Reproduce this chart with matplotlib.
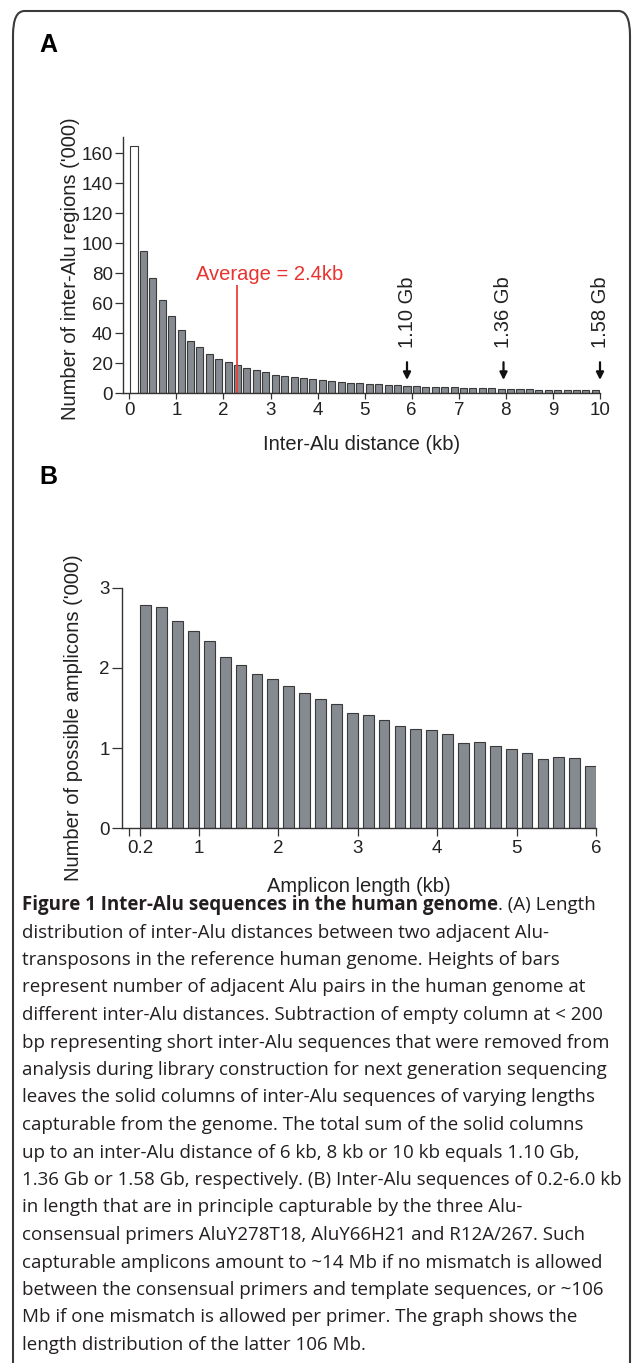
import numpy as np
import matplotlib.pyplot as plt
from matplotlib.patches import FancyBboxPatch

# ---- data ----
# panel A: 0.2 kb bins from 0 to 10 kb, counts in thousands
bins_a = np.round(np.arange(0.1, 10.0, 0.2), 2)
counts_a = [165, 95, 77, 62, 51.5, 42, 35, 31, 26, 23,
            21, 19, 17, 15.5, 14, 12.5, 11.7, 11, 10, 9.4,
            8.8, 8.1, 7.4, 6.9, 6.6, 6.1, 5.9, 5.5, 5.2, 4.8,
            4.6, 4.4, 4.2, 4.0, 3.9, 3.7, 3.5, 3.3, 3.2, 3.0,
            2.8, 2.7, 2.6, 2.5, 2.4, 2.3, 2.2, 2.1, 2.0, 1.9]
avg_pos = 2.28
avg_top = 72
avg_label = 'Average = 2.4kb'
arrow_pos = [5.9, 7.95, 10.0]
arrow_labels = ['1.10 Gb', '1.36 Gb', '1.58 Gb']

# panel B: 0.2 kb bins from 0.2 to 6.0 kb (bin right edges), counts in thousands
bins_b = np.round(np.arange(0.4, 6.01, 0.2), 2)
counts_b = [2.79, 2.76, 2.58, 2.46, 2.33, 2.13, 2.04, 1.93, 1.86, 1.77,
            1.69, 1.61, 1.55, 1.44, 1.41, 1.35, 1.27, 1.24, 1.22, 1.18,
            1.06, 1.08, 1.02, 0.99, 0.94, 0.86, 0.89, 0.88, 0.78]

caption_title = 'Figure 1 Inter-Alu sequences in the human genome'
caption_lines = [
    '. (A) Length',
    'distribution of inter-Alu distances between two adjacent Alu-',
    'transposons in the reference human genome. Heights of bars',
    'represent number of adjacent Alu pairs in the human genome at',
    'different inter-Alu distances. Subtraction of empty column at < 200',
    'bp representing short inter-Alu sequences that were removed from',
    'analysis during library construction for next generation sequencing',
    'leaves the solid columns of inter-Alu sequences of varying lengths',
    'capturable from the genome. The total sum of the solid columns',
    'up to an inter-Alu distance of 6 kb, 8 kb or 10 kb equals 1.10 Gb,',
    '1.36 Gb or 1.58 Gb, respectively. (B) Inter-Alu sequences of 0.2-6.0 kb',
    'in length that are in principle capturable by the three Alu-',
    'consensual primers AluY278T18, AluY66H21 and R12A/267. Such',
    'capturable amplicons amount to ~14 Mb if no mismatch is allowed',
    'between the consensual primers and template sequences, or ~106',
    'Mb if one mismatch is allowed per primer. The graph shows the',
    'length distribution of the latter 106 Mb.',
]

plt.rcParams['font.family'] = 'Liberation Sans'
W, H = 633, 1363
fig = plt.figure(figsize=(W / 100, H / 100), dpi=100)

bar_col = '#868b91'
edge_col = '#3a3a3a'
axis_col = '#333333'
txt_col = '#222222'
lab_fs = 14.5
tick_fs = 13.5

def px_axes(left, top, right, bottom):
    return fig.add_axes([left / W, 1 - bottom / H, (right - left) / W, (bottom - top) / H])

def style(ax):
    for s in ['top', 'right']:
        ax.spines[s].set_visible(False)
    for s in ['left', 'bottom']:
        ax.spines[s].set_color(axis_col)
        ax.spines[s].set_linewidth(1.0)
    ax.tick_params(colors=axis_col, labelcolor=txt_col, labelsize=tick_fs, width=0.9)

# ---- panel A ----
ax = px_axes(122.7, 137, 600, 393.3)
style(ax)
cols = ['white'] + [bar_col] * (len(bins_a) - 1)
ax.bar(bins_a, counts_a, width=0.15, color=cols, edgecolor=edge_col, linewidth=0.8)
ax.set_xlim(-0.14, 10.0)
ax.set_ylim(0, 170.7)
ax.set_xticks(range(0, 11))
ax.set_yticks(range(0, 161, 20))
ax.tick_params(axis='x', length=4, pad=2.5)
ax.tick_params(axis='y', length=5.5, pad=1.5)
ax.set_ylabel("Number of inter-Alu regions ('000)", fontsize=lab_fs, color=txt_col)
ax.yaxis.set_label_coords(-0.089, 0.485)
ax.set_xlabel('Inter-Alu distance (kb)', fontsize=lab_fs, color=txt_col)
ax.xaxis.set_label_coords(0.5, -0.2)
ax.xaxis.label.set_va('center')

ax.vlines(avg_pos, 0, avg_top, color='#e8413c', lw=1.3)
ax.text(1.42, 75.5, avg_label, color='#e8332f', fontsize=lab_fs, va='baseline', ha='left')
for xp, lab in zip(arrow_pos, arrow_labels):
    ax.annotate('', xy=(xp, 8.9), xytext=(xp, 20.7),
                arrowprops=dict(arrowstyle='-|>', color='#111111', lw=1.6,
                                mutation_scale=11, shrinkA=0, shrinkB=0))
    ax.text(xp, 30, lab, rotation=90, ha='center', va='bottom', fontsize=lab_fs, color=txt_col)

# ---- panel B ----
bx = px_axes(121.7, 587.7, 596, 828.3)
style(bx)
bw = 0.135
bx.bar(bins_b - bw, counts_b, width=bw, align='edge', color=bar_col, edgecolor=edge_col, linewidth=0.8)
bx.set_xlim(0.03, 6.0)
bx.set_ylim(0, 3)
bx.set_xticks([0.125, 0.265, 1, 2, 3, 4, 5, 6])
bx.set_xticklabels(['', '0.2', '1', '2', '3', '4', '5', '6'])
bx.set_yticks([0, 1, 2, 3])
bx.tick_params(axis='x', length=5.5, pad=3)
bx.tick_params(axis='y', length=7.2, pad=1.5)
bx.set_ylabel("Number of possible amplicons ('000)", fontsize=lab_fs, color=txt_col)
bx.yaxis.set_label_coords(-0.082, 0.46)
bx.set_xlabel('Amplicon length (kb)', fontsize=lab_fs, color=txt_col)
bx.xaxis.set_label_coords(0.5, -0.24)
bx.xaxis.label.set_va('center')

# panel letters
fig.text(39 / W, 1 - 52 / H, 'A', fontsize=18, fontweight='bold', va='baseline')
fig.text(39 / W, 1 - 484 / H, 'B', fontsize=18, fontweight='bold', va='baseline')

# frame around the figure
frame = FancyBboxPatch((13 / W, -0.05), (W - 3 - 13) / W, 1 - 11 / H + 0.05,
                       boxstyle='round,pad=0,rounding_size=0.018',
                       transform=fig.transFigure, fill=False, ec='#3a3a3a', lw=1.5)
fig.patches.append(frame)

# caption: one text per line, font scaled so the widest line fits the frame
cap_font = dict(family='Open Sans', color='#231f20', va='center')
x0, y0, dy = 22, 905, 27.5
cap_fs = 13.5
texts = []
t = fig.text(x0 / W, 1 - y0 / H, caption_title, fontweight='bold', fontsize=cap_fs, **cap_font)
fig.canvas.draw()
rest = fig.text(t.get_window_extent().x1 / W, 1 - y0 / H, caption_lines[0], fontsize=cap_fs, **cap_font)
texts = [t, rest]
for i, line in enumerate(caption_lines[1:], start=1):
    texts.append(fig.text(x0 / W, 1 - (y0 + i * dy) / H, line, fontsize=cap_fs, **cap_font))
fig.canvas.draw()
widest = max(tx.get_window_extent().x1 for tx in texts) - x0
scale = min(1.0, 601 / widest)
for tx in texts:
    tx.set_fontsize(cap_fs * scale)
fig.canvas.draw()
rest.set_x(t.get_window_extent().x1 / W)

fig.savefig('out.png', dpi=100)
